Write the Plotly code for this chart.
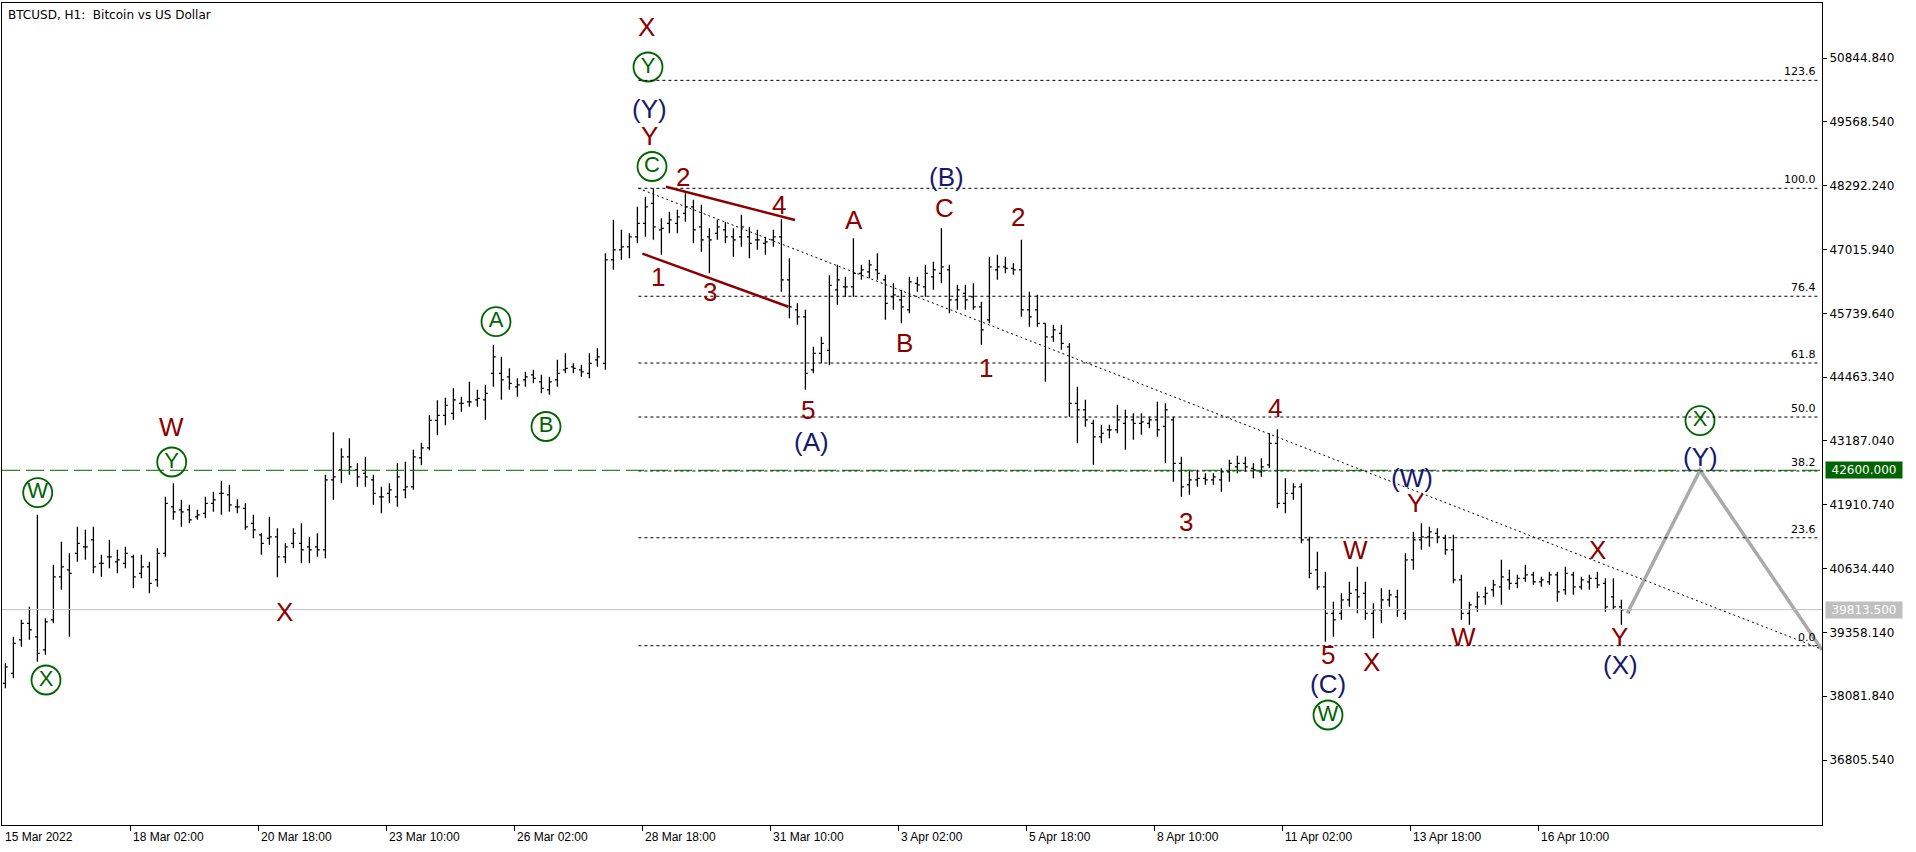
import pandas as pd
import plotly.graph_objects as go

# ---------------- data (4-hour bars) ----------------
opens = [38340,38540,39210,39540,39270,39010,39610,40470,40610,40940,
         41070,41210,40740,40870,40770,40740,40870,40540,40670,40410,
         40940,41870,41810,41810,41670,41740,41940,42140,42110,41870,
         41840,41540,41310,41240,41270,40870,41140,41140,41070,41070,
         41010,42410,42610,42870,42610,42540,42410,42070,42140,42070,
         42210,42270,42850,43050,43600,43700,43740,43940,43970,44010,
         44010,44540,44540,44470,44270,44410,44510,44370,44210,44410,
         44610,44670,44610,44540,44810,44740,46810,47010,47070,47270,
         47540,47940,47410,47540,47540,47740,47870,47470,47270,47340,
         47410,47270,47270,47270,47210,47140,47210,47270,46410,45810,
         45670,44610,44940,45000,46210,46270,46270,46540,46570,46610,
         46410,46070,46010,45810,46340,46270,46470,46540,46610,46010,
         46140,46070,45870,45610,46610,46670,46640,46610,45810,45810,
         45540,45270,45340,45070,43940,43810,43540,43270,43410,43410,
         43540,43610,43540,43540,43610,43480,43610,42740,42310,42410,
         42440,42410,42410,42570,42670,42740,42640,42570,42710,43140,
         41940,42140,42270,41210,40610,40270,39740,39740,40010,40210,
         40140,39740,39810,40010,40070,39740,40810,41210,41270,41340,
         41240,41010,40410,39740,39870,40070,40210,40270,40410,40340,
         40440,40510,40370,40370,40510,40210,40510,40270,40370,40440,
         40340,40070,39870,39780]
highs = [38740,39270,39610,39870,41710,39640,40710,41170,40940,41470,
         41410,41470,40910,41210,41010,41070,40910,40910,40770,41040,
         42070,42340,42010,41910,41810,42070,42170,42390,42310,42020,
         41940,41710,41340,41670,41440,41140,41440,41540,41270,41340,
         42510,43360,43040,43240,42740,42870,42510,42270,42340,42740,
         42770,43010,43150,43700,44000,44050,44240,44070,44370,44210,
         44310,45110,44870,44640,44440,44570,44610,44510,44470,44810,
         44940,44740,44710,44940,45040,46940,47610,47410,47340,47870,
         48070,48240,47640,47770,47810,48140,48010,47910,47440,47610,
         47570,47440,47710,47470,47410,47270,47410,47620,46840,45940,
         45810,45070,45270,46500,46710,46470,47240,46710,46810,46940,
         46510,46340,46210,46470,46470,46710,46770,47440,46710,46310,
         46310,46340,45970,46870,46910,46870,46740,47210,46170,46110,
         45540,45510,45510,45140,44270,44010,43610,43510,43510,43910,
         43810,43740,43740,43670,43970,43940,43670,42870,42610,42610,
         42540,42540,42640,42810,42890,42870,42740,42840,43340,43420,
         42440,42340,42340,41270,40970,40570,39970,40140,40370,40670,
         40370,39940,40240,40210,40210,40940,41370,41540,41470,41440,
         41310,41310,40510,39970,40170,40270,40410,40810,40610,40510,
         40710,40570,40470,40570,40570,40670,40570,40470,40510,40570,
         40440,40440,40010,39870]
lows = [38240,38440,39070,39210,38770,38910,39540,40210,39270,40770,
        40810,40540,40470,40640,40540,40640,40240,40440,40140,40270,
        40870,41610,41470,41540,41610,41640,41770,41710,41770,41740,
        41410,41240,40910,41110,40460,40740,41040,40740,40740,40870,
        40840,42010,42340,42510,42270,42270,41910,41740,41940,41870,
        42040,42210,42700,43000,43300,43500,43610,43770,43870,43870,
        43610,44270,44010,44210,44070,44270,44340,44140,44110,44270,
        44540,44540,44470,44440,44670,44610,46610,46810,46840,47140,
        47270,47210,46910,47340,47340,47570,47140,46970,46540,47210,
        47140,46870,47070,46840,47010,46910,47070,46170,45640,45510,
        44210,44540,44740,44700,45910,46070,46070,46410,46440,46410,
        45610,45810,45540,45740,46170,46070,46210,46340,45740,45810,
        45810,45810,45110,45540,46410,46540,46510,45670,45470,45470,
        44370,45170,45010,43670,43140,43470,42710,43140,43240,43340,
        43010,43210,43310,43440,43270,42740,42370,42070,42110,42270,
        42310,42310,42170,42370,42540,42570,42440,42470,42640,41840,
        41740,42010,41140,40440,40210,39170,39270,39610,39870,39740,
        39610,39240,39540,39870,39670,39610,40610,41010,41070,41140,
        40910,40340,39610,39510,39770,39910,40070,39910,40210,40240,
        40370,40310,40270,40310,39970,40110,40110,40210,40210,40240,
        39770,39810,39510,39740]
closes = [38670,39140,39540,39410,38940,39570,40470,40670,40540,41140,
          41070,40670,40740,40870,40810,40940,40470,40670,40340,40940,
          41940,41770,41770,41610,41710,41940,42010,42140,41910,41870,
          41470,41410,41140,41270,40870,41070,41340,41010,41010,41010,
          42410,42470,42870,42670,42470,42470,42140,42070,42210,42470,
          42270,42870,43050,43600,43700,43900,44010,43940,43970,44040,
          44140,44870,44410,44340,44310,44470,44440,44240,44370,44540,
          44640,44640,44570,44740,44870,46810,47010,47070,47270,47540,
          47870,47470,47440,47610,47670,47870,47410,47210,47210,47470,
          47270,47210,47470,47140,47210,47170,47270,46410,45870,45670,
          44540,44940,45140,46300,46410,46270,46540,46610,46710,46540,
          45940,46110,45870,46370,46310,46540,46610,46670,46010,46210,
          46010,45870,45410,46670,46670,46640,46610,45810,45670,45540,
          45270,45410,45140,43940,43810,43610,43270,43340,43410,43610,
          43670,43540,43570,43610,43410,43810,42740,42270,42410,42440,
          42410,42470,42570,42740,42740,42670,42610,42670,43140,41940,
          42140,42270,41210,40540,40270,39740,39610,40010,40140,40070,
          39740,39810,40010,40110,39810,40810,41210,41270,41370,41270,
          41010,40410,39740,39910,40070,40140,40310,40470,40340,40440,
          40510,40370,40410,40510,40170,40540,40270,40410,40440,40310,
          39870,39870,39810,39813.5]
first_bar_time = "2022-03-15 10:00"

y_tick_values = [36805.54, 38081.84, 39358.14, 40634.44, 41910.74, 43187.04,
                 44463.34, 45739.64, 47015.94, 48292.24, 49568.54, 50844.84]
x_tick_times = ["2022-03-15 10:00", "2022-03-18 02:00", "2022-03-20 18:00", "2022-03-23 10:00",
                "2022-03-26 02:00", "2022-03-28 18:00", "2022-03-31 10:00", "2022-04-03 02:00",
                "2022-04-05 18:00", "2022-04-08 10:00", "2022-04-11 02:00", "2022-04-13 18:00",
                "2022-04-16 10:00"]
x_tick_labels = ["15 Mar 2022", "18 Mar 02:00", "20 Mar 18:00", "23 Mar 10:00", "26 Mar 02:00",
                 "28 Mar 18:00", "31 Mar 10:00", "3 Apr 02:00", "5 Apr 18:00", "8 Apr 10:00",
                 "11 Apr 02:00", "13 Apr 18:00", "16 Apr 10:00"]

fib_ratios = [0.0, 23.6, 38.2, 50.0, 61.8, 76.4, 100.0, 123.6]
fib_low = 39092.0
fib_high = 48240.0
fib_start = "2022-03-28 16:00"

green_level = 42600.0
current_price = 39813.5

trend_times = ["2022-03-28 16:00", "2022-04-22 07:48"]
trend_prices = [48240, 39020]
channel_upper_times = ["2022-03-29 05:48", "2022-03-31 22:18"]
channel_upper_prices = [48272, 47606]
channel_lower_times = ["2022-03-28 18:00", "2022-03-31 19:00"]
channel_lower_prices = [46932, 45872]
forecast_times = ["2022-04-18 06:27", "2022-04-19 18:48", "2022-04-22 07:48"]
forecast_prices = [39740, 42600, 39010]

wave_text = ["X", "(Y)", "Y", "2", "4", "1", "3", "5", "(A)", "A", "B", "C", "(B)", "2", "1",
             "3", "4", "5", "(C)", "W", "X", "(W)", "Y", "W", "X", "Y", "(X)", "(Y)", "W", "X"]
wave_time = ["2022-03-28 19:48", "2022-03-28 21:18", "2022-03-28 21:18", "2022-03-29 14:27",
             "2022-03-31 14:18", "2022-03-29 01:57", "2022-03-30 03:48", "2022-04-01 04:39",
             "2022-04-01 06:18", "2022-04-02 03:48", "2022-04-03 04:48", "2022-04-04 00:48",
             "2022-04-04 01:48", "2022-04-05 13:39", "2022-04-04 21:39", "2022-04-09 01:39",
             "2022-04-10 22:18", "2022-04-12 00:39", "2022-04-12 00:48", "2022-04-12 14:39",
             "2022-04-12 22:18", "2022-04-13 18:39", "2022-04-13 20:39", "2022-04-14 20:27",
             "2022-04-17 15:39", "2022-04-18 02:18", "2022-04-18 02:48", "2022-04-19 19:03",
             "2022-03-18 22:39", "2022-03-21 06:57"]
wave_price = [51466, 49826, 49286, 48472, 47906, 46472, 46172, 43806, 43166, 47606, 45140,
              47840, 48466, 47672, 44640, 41572, 43840, 38906, 38326, 41006, 38766, 42440,
              41940, 39272, 41006, 39272, 38706, 42876, 43472, 39772]
wave_degree = ["minor", "inter", "minor", "minor", "minor", "minor", "minor", "minor", "inter",
               "minor", "minor", "minor", "inter", "minor", "minor", "minor", "minor", "minor",
               "inter", "minor", "minor", "inter", "minor", "minor", "minor", "minor", "inter",
               "inter", "minor", "minor"]

circled_text = ["Y", "C", "A", "B", "W", "X", "W", "X", "Y"]
circled_time = ["2022-03-28 20:48", "2022-03-28 22:48", "2022-03-25 16:48", "2022-03-26 17:48",
                "2022-04-12 00:48", "2022-04-19 18:48", "2022-03-16 03:39", "2022-03-16 07:48",
                "2022-03-18 22:39"]
circled_price = [50666, 48676, 45572, 43476, 37706, 43592, 42152, 38406, 42766]

x_range = ["2022-03-15 09:48", "2022-04-22 07:48"]
y_range = [35506, 51946]

# ---------------- styles ----------------
RED = "#8b0000"
BLUE = "#191970"
GREEN = "#006400"
deg_color = {"minor": RED, "inter": BLUE}

bar_open = pd.date_range(first_bar_time, periods=len(closes), freq="4h")
bar_x = bar_open + pd.Timedelta(hours=1.5)

fig = go.Figure()
fig.add_trace(go.Ohlc(
    x=bar_x, open=opens, high=highs, low=lows, close=closes,
    increasing=dict(line=dict(color="black", width=1.3)),
    decreasing=dict(line=dict(color="black", width=1.3)),
    tickwidth=0.3, hoverinfo="skip", showlegend=False))

fig.add_trace(go.Scatter(x=forecast_times, y=forecast_prices, mode="lines",
                         line=dict(color="#aaaaaa", width=3.5), hoverinfo="skip",
                         showlegend=False))

shapes = []
for r in fib_ratios:
    lvl = fib_low + (fib_high - fib_low) * r / 100.0
    shapes.append(dict(type="line", xref="x", yref="y", x0=fib_start, x1="2022-04-22 05:48",
                       y0=lvl, y1=lvl, line=dict(color="black", width=1, dash="3px,3px")))
shapes.append(dict(type="line", xref="paper", yref="y", x0=0, x1=1, y0=green_level, y1=green_level,
                   line=dict(color=GREEN, width=1, dash="18px,6px")))
shapes.append(dict(type="line", xref="paper", yref="y", x0=0, x1=1, y0=current_price,
                   y1=current_price, line=dict(color="#c0c0c0", width=1)))
shapes.append(dict(type="line", xref="x", yref="y", x0=trend_times[0], x1=trend_times[1],
                   y0=trend_prices[0], y1=trend_prices[1],
                   line=dict(color="black", width=1, dash="2px,3px")))
for tt, pp in ((channel_upper_times, channel_upper_prices),
               (channel_lower_times, channel_lower_prices)):
    shapes.append(dict(type="line", xref="x", yref="y", x0=tt[0], x1=tt[1], y0=pp[0], y1=pp[1],
                       line=dict(color=RED, width=2.5)))

ann = []
ann.append(dict(xref="paper", yref="paper", x=0, y=1, xanchor="left", yanchor="top",
                xshift=4, yshift=-3, showarrow=False,
                text="BTCUSD, H1:\u00a0 Bitcoin vs US Dollar",
                font=dict(family="DejaVu Sans", size=12, color="black")))
for r in fib_ratios:
    lvl = fib_low + (fib_high - fib_low) * r / 100.0
    ann.append(dict(xref="paper", yref="y", x=1, y=lvl, xanchor="right", yanchor="bottom",
                    xshift=-4, yshift=0, showarrow=False, text=f"{r:.1f}",
                    font=dict(family="DejaVu Sans", size=11, color="black")))
for t, lab in zip(x_tick_times, x_tick_labels):
    ann.append(dict(xref="x", yref="paper", x=t, y=0, xanchor="left", yanchor="top",
                    xshift=1, yshift=-3, showarrow=False, text=lab,
                    font=dict(family="Liberation Sans", size=12, color="black")))
for txt, t, p, d in zip(wave_text, wave_time, wave_price, wave_degree):
    ann.append(dict(xref="x", yref="y", x=t, y=p, xanchor="center", yanchor="middle",
                    showarrow=False, text=txt,
                    font=dict(family="Liberation Sans", size=26, color=deg_color[d])))
for val, bg in ((green_level, GREEN), (current_price, "#c0c0c0")):
    ann.append(dict(xref="paper", yref="y", x=1, y=val, xanchor="left", yanchor="middle",
                    xshift=3, showarrow=False, text=f"{val:.3f}", bgcolor=bg,
                    width=74, height=14, borderpad=1,
                    font=dict(family="DejaVu Sans", size=12, color="white")))

fig.add_trace(go.Scatter(
    x=circled_time, y=circled_price, mode="markers+text", text=circled_text,
    textposition="middle center",
    textfont=dict(family="Liberation Sans", size=22, color=GREEN),
    marker=dict(symbol="circle-open", size=29, color=GREEN, line=dict(width=1.8, color=GREEN)),
    hoverinfo="skip", showlegend=False, cliponaxis=False))

fig.update_layout(
    width=1916, height=852, margin=dict(l=2, r=94, t=3, b=27),
    paper_bgcolor="white", plot_bgcolor="white", showlegend=False,
    shapes=shapes, annotations=ann,
    xaxis=dict(type="date", range=x_range, showgrid=False, zeroline=False, showline=True,
               linecolor="black", linewidth=1, mirror=True, ticks="outside", ticklen=5,
               tickcolor="black", tickvals=x_tick_times[1:], showticklabels=False,
               rangeslider=dict(visible=False), fixedrange=True),
    yaxis=dict(range=y_range, side="right", showgrid=False, zeroline=False, showline=True,
               linecolor="black", linewidth=1, mirror=True, ticks="outside", ticklen=4,
               tickcolor="black", tickvals=y_tick_values,
               ticktext=[f"{v:.3f}" for v in y_tick_values],
               tickfont=dict(family="DejaVu Sans", size=12, color="black"), fixedrange=True),
)

fig.write_html("out.html", config={"displayModeBar": False},
               post_script="document.body.style.margin='0';document.body.style.overflow='hidden';")
